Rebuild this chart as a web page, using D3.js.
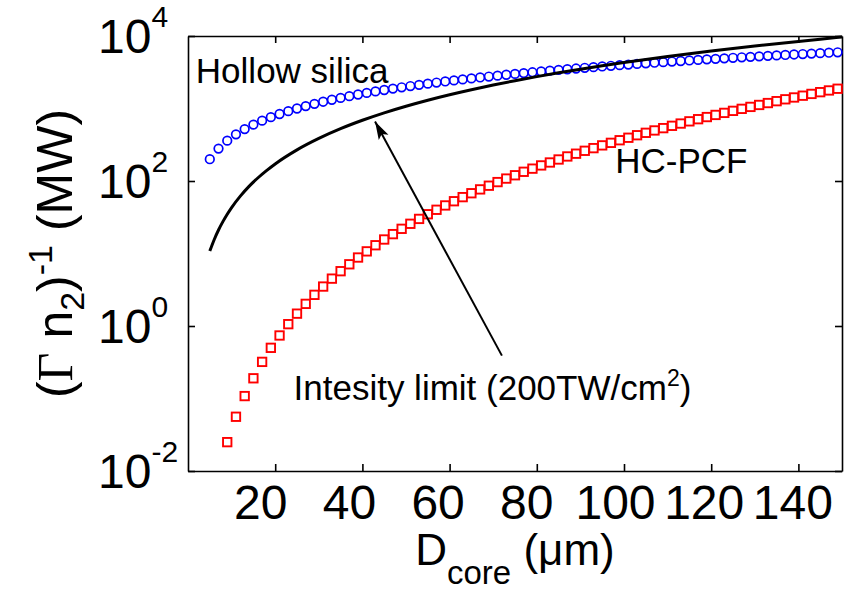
<!DOCTYPE html>
<html>
<head>
<meta charset="utf-8">
<script src="https://cdn.jsdelivr.net/npm/d3@7"></script>
<style>
  body { margin: 0; background: #fff; }
  svg { display: block; font-family: "Liberation Sans", Arial, sans-serif; }
  .axis path, .axis line { stroke: #000; stroke-width: 1.6; }
</style>
</head>
<body>
<div id="chart"></div>
<script>
// core diameter (um) and (Gamma n2)^-1 (MW)
var silicaD = [5,7,9,11,13,15,17,19,21,23,25,27,29,31,33,35,37,39,41,43,45,47,49,51,53,55,57,59,61,63,65,67,69,71,73,75,77,79,81,83,85,87,89,91,93,95,97,99,101,103,105,107,109,111,113,115,117,119,121,123,125,127,129,131,133,135,137,139,141,143,145,147,149];
var silicaP = [200,280,360,440,520,600,680,760,840,920,1000,1080,1160,1240,1320,1400,1480,1560,1640,1720,1800,1880,1960,2040,2120,2200,2280,2360,2440,2520,2600,2680,2760,2840,2920,3000,3080,3160,3240,3320,3400,3480,3560,3640,3720,3800,3880,3960,4040,4120,4200,4280,4360,4440,4520,4600,4680,4760,4840,4920,5000,5080,5160,5240,5320,5400,5480,5560,5640,5720,5800,5880,5960];

var pcfD = [9,11,13,15,17,19,21,23,25,27,29,31,33,35,37,39,41,43,45,47,49,51,53,55,57,59,61,63,65,67,69,71,73,75,77,79,81,83,85,87,89,91,93,95,97,99,101,103,105,107,109,111,113,115,117,119,121,123,125,127,129,131,133,135,137,139,141,143,145,147,149];
var pcfP = [0.025,0.056,0.108,0.19,0.32,0.5,0.74,1.06,1.48,2.02,2.69,3.5,4.5,5.7,7.1,8.8,10.7,13,15.6,18.5,21.9,25.7,30,34.8,40.1,46,52.6,59.9,67.8,76.6,86.1,96.6,108,120,134,148,164,180,198,218,238,261,284,310,336,365,395,428,462,498,536,577,620,665,712,762,815,870,928,989,1052,1119,1189,1262,1339,1419,1502,1589,1680,1774,1873];

var limitD = [5,6,7,8,9,10,12,14,16,18,20,25,30,35,40,45,50,55,60,65,70,75,80,85,90,95,100,105,110,115,120,125,130,135,140,145,150];
var limitP = [10.8,15.5,21.1,27.5,34.8,43,61.9,84.3,110,139,172,269,387,527,688,871,1075,1301,1548,1817,2107,2419,2752,3107,3483,3881,4300,4741,5203,5687,6192,6719,7267,7837,8428,9041,9675];

var xTicks = [20, 40, 60, 80, 100, 120, 140];
var yTicks = [1e-2, 1e0, 1e2, 1e4];
var yTickExp = ["-2", "0", "2", "4"];

var width = 844, height = 594;
var margin = {top: 36, right: 2, bottom: 123, left: 188};

var svg = d3.select("#chart").append("svg")
    .attr("width", width)
    .attr("height", height);

var x = d3.scaleLinear().domain([0, 150]).range([margin.left, width - margin.right]);
var y = d3.scaleLog().domain([1e-2, 1e4]).range([height - margin.bottom, margin.top]);

// box with inward ticks
svg.append("g").attr("class", "axis")
    .attr("transform", "translate(0," + (height - margin.bottom) + ")")
    .call(d3.axisBottom(x).tickValues(xTicks).tickSizeInner(-7).tickSizeOuter(0).tickPadding(14))
    .call(function(g) {
        g.selectAll("text")
            .attr("font-size", 48)
            .attr("font-family", "Liberation Sans, Arial, sans-serif")
            .attr("fill", "#000")
            .attr("dx", function(d) { return -15 + (d - 20) * 0.075; });
    });

svg.append("g").attr("class", "axis")
    .attr("transform", "translate(0," + margin.top + ")")
    .call(d3.axisTop(x).tickValues(xTicks).tickSizeInner(-7).tickSizeOuter(0).tickFormat(""));

svg.append("g").attr("class", "axis")
    .attr("transform", "translate(" + margin.left + ",0)")
    .call(d3.axisLeft(y).tickValues(yTicks).tickSizeInner(-7).tickSizeOuter(0).tickFormat(""));

svg.append("g").attr("class", "axis")
    .attr("transform", "translate(" + (width - margin.right) + ",0)")
    .call(d3.axisRight(y).tickValues(yTicks).tickSizeInner(-7).tickSizeOuter(0).tickFormat(""));

// y tick labels 10^n
var yLab = svg.append("g").selectAll("text")
    .data(yTicks)
    .join("text")
    .attr("x", 98)
    .attr("y", function(d) { return y(d) + 17; })
    .attr("font-size", 48);
yLab.append("tspan").text("10");
yLab.append("tspan")
    .attr("font-size", 30)
    .attr("dy", -26)
    .text(function(d, i) { return yTickExp[i]; });

// series
var line = d3.line()
    .x(function(d) { return x(d[0]); })
    .y(function(d) { return y(d[1]); })
    .curve(d3.curveMonotoneX);

svg.append("g").selectAll("circle")
    .data(d3.zip(silicaD, silicaP))
    .join("circle")
    .attr("cx", function(d) { return x(d[0]); })
    .attr("cy", function(d) { return y(d[1]); })
    .attr("r", 4.3)
    .attr("fill", "none")
    .attr("stroke", "#0000ff")
    .attr("stroke-width", 1.7);

var sq = 8.4;
svg.append("g").selectAll("rect")
    .data(d3.zip(pcfD, pcfP))
    .join("rect")
    .attr("x", function(d) { return x(d[0]) - sq / 2; })
    .attr("y", function(d) { return y(d[1]) - sq / 2; })
    .attr("width", sq)
    .attr("height", sq)
    .attr("fill", "none")
    .attr("stroke", "#ff0000")
    .attr("stroke-width", 1.9);

svg.append("path")
    .datum(d3.zip(limitD, limitP))
    .attr("d", line)
    .attr("fill", "none")
    .attr("stroke", "#000")
    .attr("stroke-width", 3);

// arrow to the intensity limit curve
svg.append("defs").append("marker")
    .attr("id", "head")
    .attr("markerUnits", "userSpaceOnUse")
    .attr("viewBox", "0 -6 18 12")
    .attr("refX", 18).attr("refY", 0)
    .attr("markerWidth", 18).attr("markerHeight", 12)
    .attr("orient", "auto")
    .append("path")
    .attr("d", "M0,-5.5L18,0L0,5.5L4,0Z")
    .attr("fill", "#000");

svg.append("line")
    .attr("x1", x(72)).attr("y1", y(0.39))
    .attr("x2", x(42.9)).attr("y2", y(660))
    .attr("stroke", "#000")
    .attr("stroke-width", 2)
    .attr("marker-end", "url(#head)");

// annotations
svg.append("text").attr("x", x(1.8)).attr("y", y(2240))
    .attr("font-size", 35).text("Hollow silica");
svg.append("text").attr("x", x(98)).attr("y", y(129))
    .attr("font-size", 35).text("HC-PCF");
var lim = svg.append("text").attr("x", x(24.2)).attr("y", y(0.096))
    .attr("font-size", 35);
lim.append("tspan").text("Intesity limit (200TW/cm");
lim.append("tspan").attr("font-size", 23).attr("dy", -14).text("2");
lim.append("tspan").attr("dy", 14).text(")");

// axis titles
var xt = svg.append("text")
    .attr("x", (x.range()[0] + x.range()[1]) / 2)
    .attr("y", 565)
    .attr("text-anchor", "middle")
    .attr("font-size", 44);
xt.append("tspan").text("D");
xt.append("tspan").attr("font-size", 33).attr("dy", 19).text("core");
xt.append("tspan").attr("dy", -19).text(" (\u03bcm)");

var yt = svg.append("text")
    .attr("transform", "translate(72," + ((y.range()[0] + y.range()[1]) / 2) + ") rotate(-90)")
    .attr("text-anchor", "middle")
    .attr("font-size", 50);
yt.append("tspan").text("(");
yt.append("tspan").attr("font-family", "Liberation Serif, Times New Roman, serif").text("\u0393");
yt.append("tspan").text(" n");
yt.append("tspan").attr("font-size", 34).attr("dy", 12).text("2");
yt.append("tspan").attr("dy", -12).text(")");
yt.append("tspan").attr("font-size", 34).attr("dy", -20).text("-1");
yt.append("tspan").attr("dy", 20).text(" (MW)");
</script>
</body>
</html>
